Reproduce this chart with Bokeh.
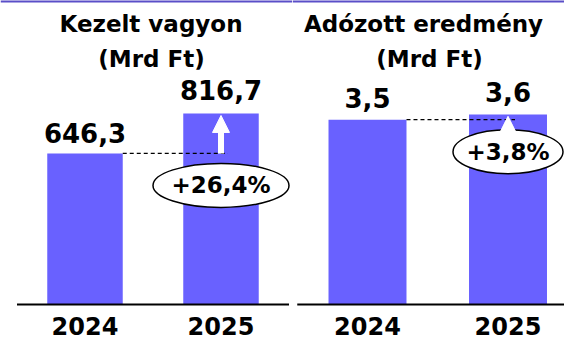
from bokeh.plotting import figure
from bokeh.layouts import row
from bokeh.models import Range1d, Arrow, NormalHead, Span
from bokeh.core.properties import value
from bokeh.embed import file_html
from bokeh.resources import INLINE

# ---- data -------------------------------------------------------------
years = ["2024", "2025"]

assets = [646.3, 816.7]          # Kezelt vagyon, Mrd Ft
assets_growth = 26.4             # %
assets_title = ["Kezelt vagyon", "(Mrd Ft)"]

profit = [3.5, 3.6]              # Adózott eredmény, Mrd Ft
profit_growth = 3.8              # %
profit_title = ["Adózott eredmény", "(Mrd Ft)"]

# ---- style ------------------------------------------------------------
H = 339
BASE = 304                 # pixel row of the zero line (from top)
BAR = "#6961ff"
TOP_RULE = "#5a4ec8"
FONT = value("DejaVu Sans")
BAR_W = 0.555


def hu(v, digits=1):
    """Hungarian decimal comma."""
    return f"{v:.{digits}f}".replace(".", ",")


def panel(width, origin, vals, growth, title, px_per_unit, first_px, step_px,
          label_gap, oval_w, title_px):
    idx = list(range(len(years)))

    def gx(px):  # page pixel column -> data x
        return (px - origin - first_px) / step_px

    def gy(px):  # page pixel row -> data y
        return (BASE - px) / px_per_unit

    p = figure(width=width, height=H, output_backend="svg", toolbar_location=None,
               x_axis_location=None, y_axis_location=None, min_border=0, title=None,
               x_range=Range1d(-first_px / step_px, (width - first_px) / step_px),
               y_range=Range1d(-(H - BASE) / px_per_unit, BASE / px_per_unit))
    p.outline_line_color = None
    p.xgrid.visible = False
    p.ygrid.visible = False
    p.background_fill_color = "white"
    p.border_fill_color = "white"

    # columns
    p.vbar(x=idx, top=vals, width=BAR_W, fill_color=BAR, line_color=None)

    # zero line across both category slots
    p.segment(x0=[idx[0] - 0.5], y0=[0], x1=[idx[-1] + 0.5], y1=[0],
              line_color="black", line_width=2)

    # dashed reference at the earlier year's level
    p.segment(x0=[idx[0] + BAR_W / 2], y0=[vals[0]], x1=[idx[1] + 0.05], y1=[vals[0]],
              line_color="black", line_width=1.2, line_dash="4 3")

    # growth arrow inside the later column
    p.add_layout(Arrow(end=NormalHead(size=17, fill_color="white", line_color="white"),
                       x_start=idx[1], y_start=vals[0], x_end=idx[1], y_end=vals[1] * 0.99,
                       line_color="white", line_width=6))

    # value labels
    p.text(x=idx, y=vals, text=[hu(v) for v in vals], y_offset=label_gap,
           text_align="center", text_baseline="middle",
           text_font=FONT, text_font_style="bold", text_font_size="26px",
           text_color="black")

    # growth oval
    oy = vals[0] - 32 / px_per_unit
    p.ellipse(x=[idx[1]], y=[oy], width=[oval_w], height=[44],
              width_units="screen", height_units="screen",
              fill_color="white", line_color="black", line_width=1.5)
    p.text(x=[idx[1]], y=[oy], text=["+" + hu(growth) + "%"],
           text_align="center", text_baseline="middle",
           text_font=FONT, text_font_style="bold", text_font_size="23px",
           text_color="black")

    # category labels under the zero line
    p.text(x=idx, y=[0] * len(idx), text=years, y_offset=21,
           text_align="center", text_baseline="middle",
           text_font=FONT, text_font_style="bold", text_font_size="24px",
           text_color="black")

    # two-line heading
    p.text(x=[gx(title_px[0]), gx(title_px[1])], y=[gy(23), gy(58)], text=title,
           text_align="center", text_baseline="middle",
           text_font=FONT, text_font_style="bold", text_font_size="23px",
           text_color="black")

    # rule along the top edge
    p.add_layout(Span(location=BASE / px_per_unit, dimension="width",
                      line_color=TOP_RULE, line_width=4))
    return p


left = panel(292, 0, assets, assets_growth, assets_title,
             px_per_unit=0.2338, first_px=84.5, step_px=136,
             label_gap=[-20, -24], oval_w=136, title_px=(150.5, 151))
right = panel(272, 292, profit, profit_growth, profit_title,
              px_per_unit=52.8, first_px=75, step_px=140.5,
              label_gap=[-22, -22], oval_w=110, title_px=(423, 429))

layout = row(left, right, spacing=0)

open("out.html", "w").write(file_html(layout, INLINE))
